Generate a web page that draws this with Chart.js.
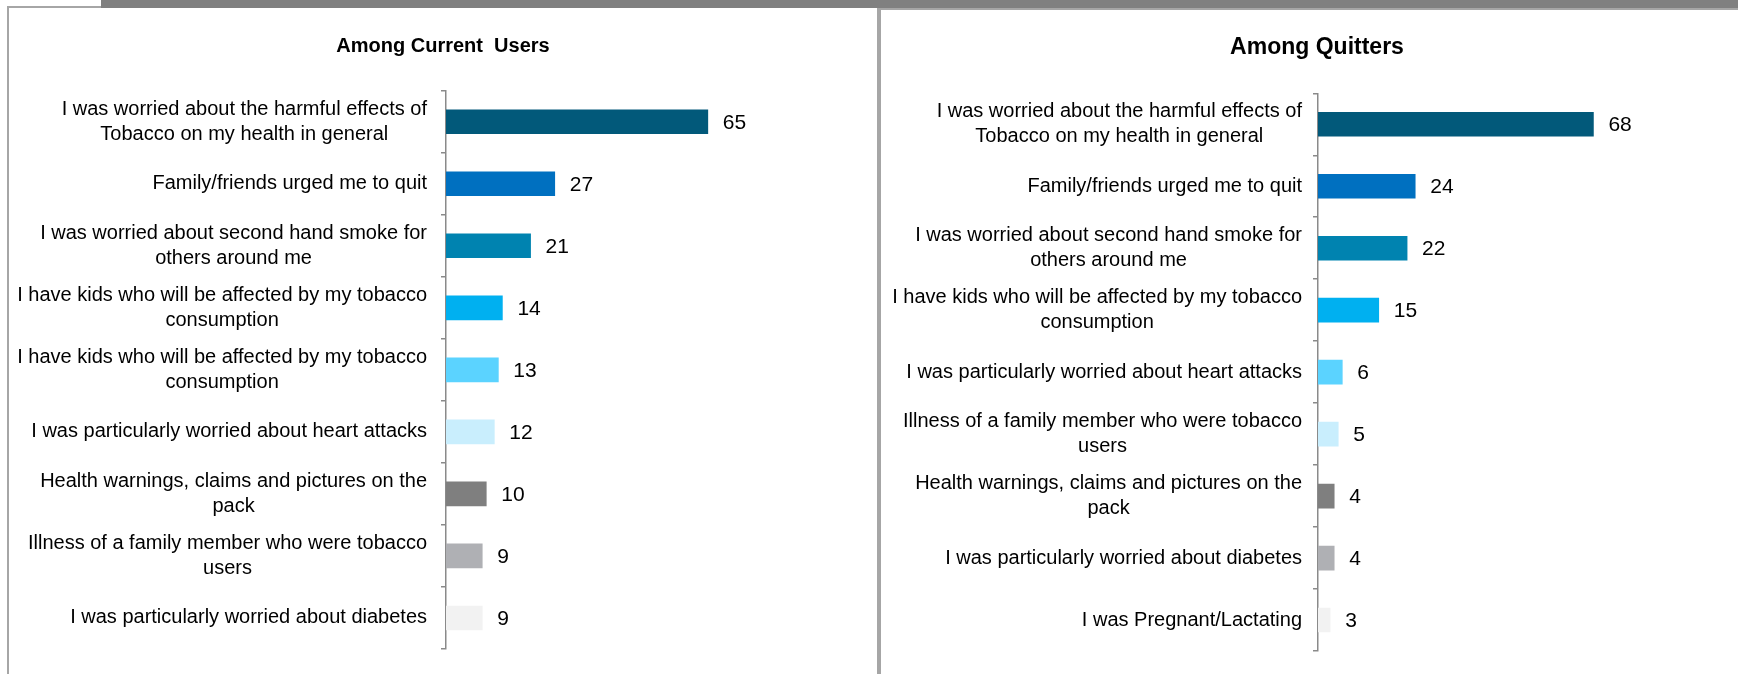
<!DOCTYPE html>
<html>
<head>
<meta charset="utf-8">
<title>Reasons for quitting tobacco</title>
<script src="https://cdn.jsdelivr.net/npm/chart.js@4.4.1/dist/chart.umd.min.js"></script>
<style>
    html, body { margin: 0; padding: 0; background: #fff; }
    body { width: 1738px; height: 674px; position: relative; overflow: hidden; }
    .top-bar { position: absolute; left: 101px; top: 0; width: 1637px; height: 8px; background: #808080; z-index: 3; }
    .panel { position: absolute; box-sizing: border-box; background: #fff; border: 2px solid #a6a6a6; }
    #panel-users { left: 7px; top: 6px; width: 872px; height: 720px; z-index: 1; }
    #panel-quitters { left: 879px; top: 8px; width: 900px; height: 720px; z-index: 1; }
    canvas { position: absolute; z-index: 2; }
    #usersChart { left: 9px; top: 8px; }
    #quittersChart { left: 881px; top: 10px; }
</style>
</head>
<body>
<div class="top-bar"></div>
<div class="panel" id="panel-users"></div>
<div class="panel" id="panel-quitters"></div>
<canvas id="usersChart" width="868" height="666"></canvas>
<canvas id="quittersChart" width="872" height="664"></canvas>

<script>
// Reasons given (in %), one list per group; multi-line labels are arrays of lines
const usersTitle = 'Among Current  Users';
const usersLabels = [
    ['I was worried about the harmful effects of', 'Tobacco on my health in general'],
    'Family/friends urged me to quit',
    ['I was worried about second hand smoke for', 'others around me'],
    ['I have kids who will be affected by my tobacco', 'consumption'],
    ['I have kids who will be affected by my tobacco', 'consumption'],
    'I was particularly worried about heart attacks',
    ['Health warnings, claims and pictures on the', 'pack'],
    ['Illness of a family member who were tobacco', 'users'],
    'I was particularly worried about diabetes'
];
const usersValues = [65, 27, 21, 14, 13, 12, 10, 9, 9];

const quittersTitle = 'Among Quitters';
const quittersLabels = [
    ['I was worried about the harmful effects of', 'Tobacco on my health in general'],
    'Family/friends urged me to quit',
    ['I was worried about second hand smoke for', 'others around me'],
    ['I have kids who will be affected by my tobacco', 'consumption'],
    'I was particularly worried about heart attacks',
    ['Illness of a family member who were tobacco', 'users'],
    ['Health warnings, claims and pictures on the', 'pack'],
    'I was particularly worried about diabetes',
    'I was Pregnant/Lactating'
];
const quittersValues = [68, 24, 22, 15, 6, 5, 4, 4, 3];

// Bar colours by rank, shared by both panels
const barColors = ['#02597a', '#0070c0', '#0083b0', '#00b0f0', '#5bd3ff', '#c9eefd', '#7f7f7f', '#afb0b4', '#f2f2f2'];

const FONT = "'Liberation Sans', Arial, sans-serif";

// Category labels: lines centred on each other, block right-aligned to the axis
const categoryLabels = {
    id: 'categoryLabels',
    afterDraw(chart, args, opts) {
        const ctx = chart.ctx;
        const yScale = chart.scales.y;
        const right = chart.chartArea.left - opts.gap;
        ctx.save();
        ctx.font = `20px ${FONT}`;
        ctx.fillStyle = '#000';
        ctx.textAlign = 'center';
        ctx.textBaseline = 'middle';
        chart.data.labels.forEach((label, i) => {
            const lines = Array.isArray(label) ? label : [label];
            const blockWidth = Math.max(...lines.map(l => ctx.measureText(l).width));
            const cx = right - blockWidth / 2;
            const top = yScale.getPixelForValue(i) - (lines.length - 1) * opts.lineHeight / 2;
            lines.forEach((line, j) => ctx.fillText(line, cx, top + j * opts.lineHeight));
        });
        ctx.restore();
    }
};

// Value printed just past the end of each bar
const valueLabels = {
    id: 'valueLabels',
    afterDatasetsDraw(chart, args, opts) {
        const ctx = chart.ctx;
        const values = chart.data.datasets[0].data;
        ctx.save();
        ctx.font = `21px ${FONT}`;
        ctx.fillStyle = '#000';
        ctx.textAlign = 'left';
        ctx.textBaseline = 'middle';
        chart.getDatasetMeta(0).data.forEach((bar, i) => {
            ctx.fillText(values[i], bar.x + opts.offset, bar.y + 1);
        });
        ctx.restore();
    }
};

function buildChart(canvasId, title, titleSize, labels, values, layout) {
    return new Chart(document.getElementById(canvasId), {
        type: 'bar',
        data: {
            labels: labels,
            datasets: [{
                data: values,
                backgroundColor: barColors,
                barThickness: 24,
                borderWidth: 0
            }]
        },
        options: {
            indexAxis: 'y',
            responsive: false,
            animation: false,
            devicePixelRatio: 1,
            layout: { padding: { left: 0, right: 0, top: 0, bottom: layout.bottom } },
            scales: {
                x: { display: false, min: 0, max: layout.xMax },
                y: {
                    // label space is reserved here, the labels themselves come from categoryLabels
                    afterFit(scale) { scale.width = layout.axisLeft; },
                    ticks: { display: false },
                    grid: {
                        offset: true,
                        drawOnChartArea: false,
                        drawTicks: true,
                        tickLength: 5,
                        color: '#8a8a8a',
                        lineWidth: 1.5
                    },
                    border: { display: true, color: '#8a8a8a', width: 1.5 }
                }
            },
            plugins: {
                legend: { display: false },
                tooltip: { enabled: false },
                title: {
                    display: true,
                    text: title,
                    color: '#000',
                    font: { family: FONT, size: titleSize, weight: 'bold', lineHeight: 1.2 },
                    padding: layout.titlePadding
                },
                categoryLabels: { gap: layout.labelGap, lineHeight: 25 },
                valueLabels: { offset: 15 }
            }
        },
        plugins: [categoryLabels, valueLabels]
    });
}

document.addEventListener('DOMContentLoaded', function() {
    Chart.defaults.font.family = FONT;

    buildChart('usersChart', usersTitle, 20, usersLabels, usersValues, {
        axisLeft: 437,
        xMax: 107,
        bottom: 25,
        titlePadding: { top: 26, bottom: 32.7 },
        labelGap: 19
    });

    buildChart('quittersChart', quittersTitle, 23, quittersLabels, quittersValues, {
        axisLeft: 437,
        xMax: 107.4,
        bottom: 23,
        titlePadding: { top: 24, bottom: 31.7 },
        labelGap: 16
    });
});
</script>
</body>
</html>
